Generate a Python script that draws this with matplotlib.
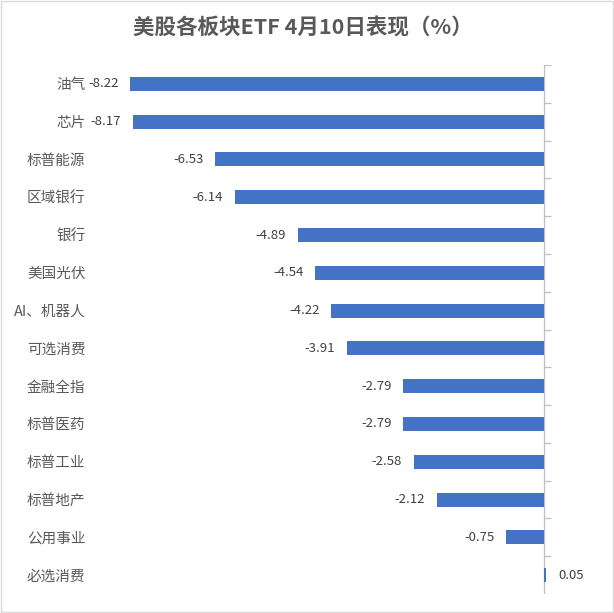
import matplotlib
matplotlib.use('Agg')
import matplotlib.pyplot as plt
import numpy as np

plt.rcParams['font.family'] = ['Noto Sans CJK SC', 'DejaVu Sans']

categories = ['油气', '芯片', '标普能源', '区域银行', '银行', '美国光伏', 'AI、机器人',
              '可选消费', '金融全指', '标普医药', '标普工业', '标普地产', '公用事业', '必选消费']
values = [-8.22, -8.17, -6.53, -6.14, -4.89, -4.54, -4.22,
          -3.91, -2.79, -2.79, -2.58, -2.12, -0.75, 0.05]
title = '美股各板块ETF 4月10日表现（%）'

bar_color = '#4472c4'
text_color = '#595959'
axis_color = '#bfbfbf'

fig = plt.figure(figsize=(6.14, 6.13), dpi=100)
ax = fig.add_axes([91 / 614, 19 / 613, (594 - 91) / 614, (594 - 65) / 613])

y = np.arange(len(categories))
ax.barh(y, values, height=0.37, color=bar_color)
ax.set_xlim(-9, 1)
ax.set_ylim(len(categories) - 0.5, -0.5)

# axis line at zero with small ticks between categories
ax.axvline(0, color=axis_color, lw=0.9, zorder=0)
bounds = np.arange(len(categories) + 1) - 0.5
ax.hlines(bounds, 0, 0.14, color=axis_color, lw=0.9)

for s in ax.spines.values():
    s.set_visible(False)
ax.set_xticks([])
ax.set_yticks(y)
ax.set_yticklabels(categories, fontsize=10.5, color=text_color)
ax.tick_params(axis='y', length=0, pad=4)

for yi, v in zip(y, values):
    if v < 0:
        ax.annotate(f'{v:.2f}', (v, yi), xytext=(-8.5, 0), textcoords='offset points',
                    ha='right', va='center', fontsize=9.5, color='#404040')
    else:
        ax.annotate(f'{v:.2f}', (v, yi), xytext=(8.5, 0), textcoords='offset points',
                    ha='left', va='center', fontsize=9.5, color='#404040')

fig.text(0.494, 1 - 28 / 613, title, ha='center', va='center',
         fontsize=15.5, fontweight='bold', color=text_color)

# light frame round the whole chart
fig.patches.append(plt.Rectangle((0.002, 0.002), 0.996, 0.996, transform=fig.transFigure,
                                 fill=False, edgecolor='#d9d9d9', lw=1))

fig.savefig('out.png', dpi=100)
